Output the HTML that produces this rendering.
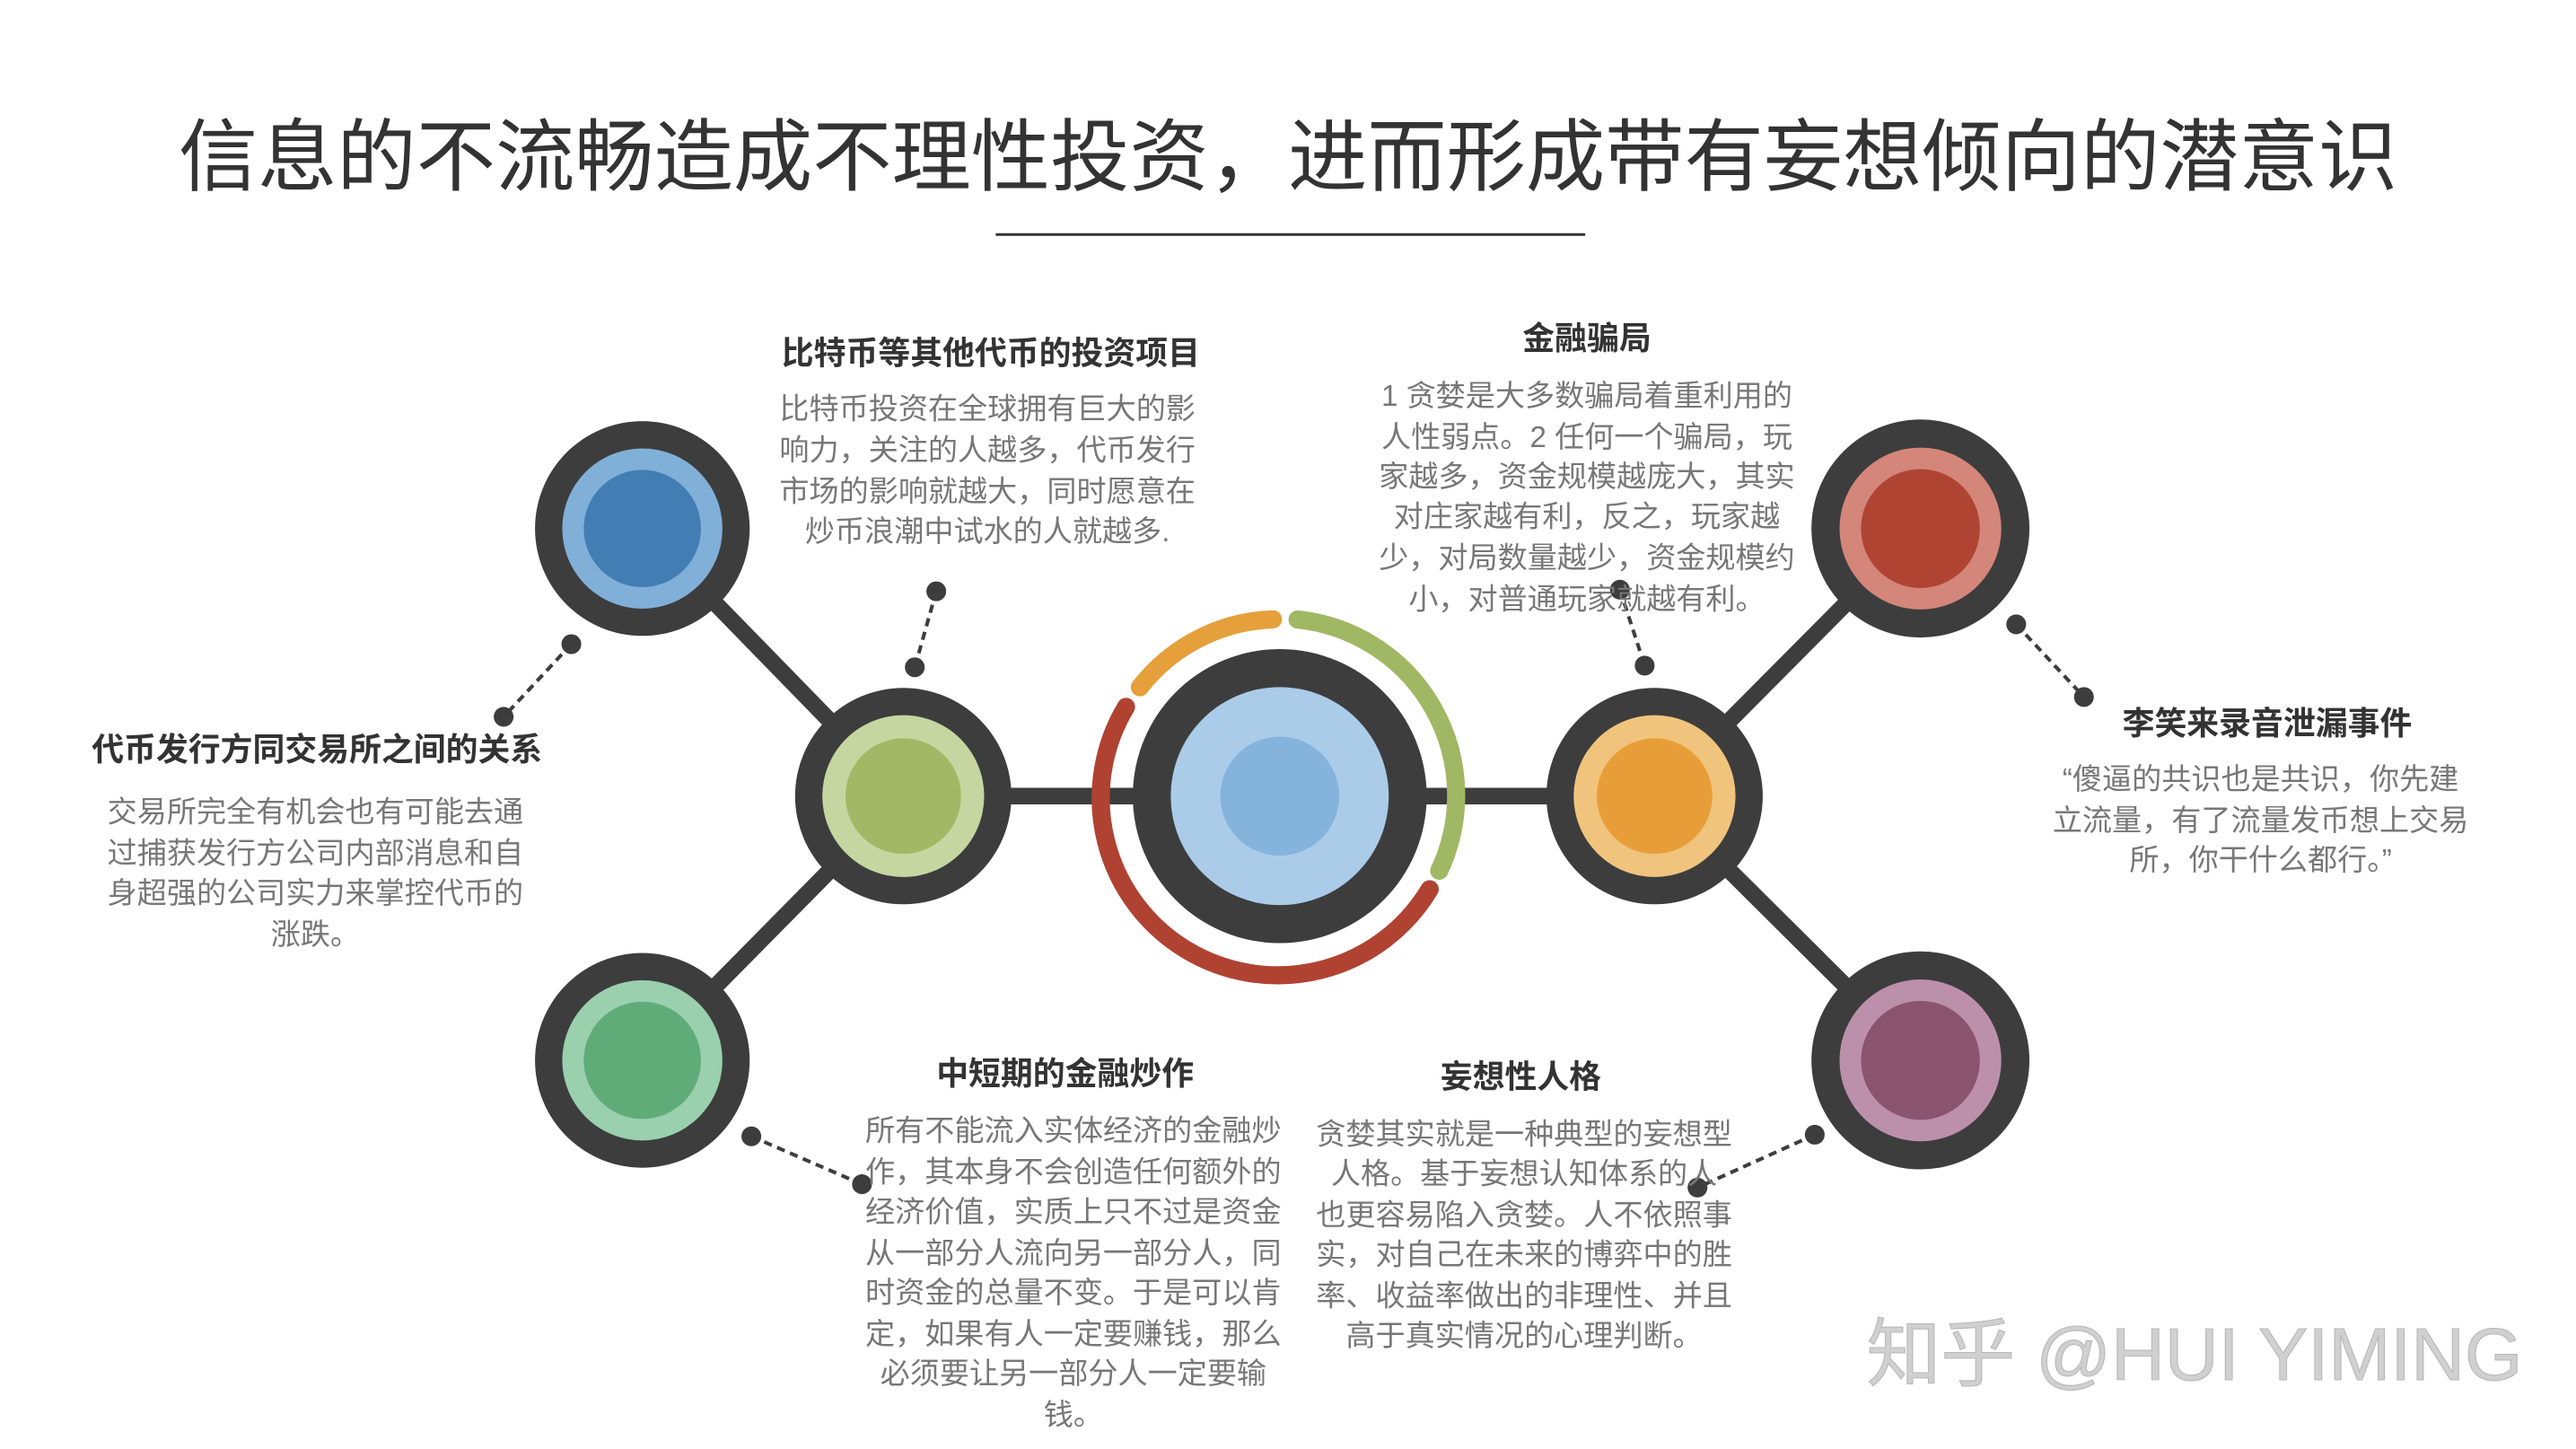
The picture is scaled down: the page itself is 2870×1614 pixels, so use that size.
<!DOCTYPE html>
<html><head><meta charset="utf-8"><style>
html,body{margin:0;padding:0;background:#fff}
svg{display:block}
text{font-family:"Liberation Sans","Noto Sans CJK SC",sans-serif}
.t{font-size:19.5px;font-weight:bold;fill:#333;text-anchor:middle;dominant-baseline:central}
.b{font-size:18px;fill:#777;text-anchor:middle;dominant-baseline:central}
</style></head><body>
<svg width="2870" height="1614" viewBox="0 0 1560 877.3" xmlns="http://www.w3.org/2000/svg">
<rect width="1560" height="878" fill="#fff"/>
<text x="780" y="95" font-size="48" fill="#333" text-anchor="middle" dominant-baseline="central">信息的不流畅造成不理性投资，进而形成带有妄想倾向的潜意识</text>
<line x1="603" y1="142" x2="960" y2="142" stroke="#333" stroke-width="1.6"/>

<g stroke="#3d3d3d" stroke-width="10">
<line x1="547" y1="482" x2="1002" y2="482"/>
<line x1="389" y1="320" x2="547" y2="482"/>
<line x1="389" y1="642" x2="547" y2="482"/>
<line x1="1163" y1="320" x2="1002" y2="482"/>
<line x1="1163" y1="642" x2="1002" y2="482"/>
</g>

<g fill="none" stroke-width="11" stroke-linecap="round">
<path d="M690.3,416.1 A107,107 0 0 1 770.9,375" stroke="#e5a03b"/>
<path d="M785.8,375.1 A107,107 0 0 1 871.6,527.2" stroke="#a0b864"/>
<path d="M865.8,538.4 A107,107 0 1 1 681.9,428" stroke="#b04232"/>
</g>

<circle cx="775" cy="482" r="89" fill="#3d3d3d"/>
<circle cx="775" cy="482" r="66" fill="#aacce8"/>
<circle cx="775" cy="482" r="36" fill="#84b4dc"/>

<circle cx="547" cy="482" r="65.5" fill="#3d3d3d"/>
<circle cx="547" cy="482" r="49" fill="#c6d6a0"/>
<circle cx="547" cy="482" r="35" fill="#a2b864"/>

<circle cx="1002" cy="482" r="65.5" fill="#3d3d3d"/>
<circle cx="1002" cy="482" r="49" fill="#f0c47c"/>
<circle cx="1002" cy="482" r="35" fill="#e89e38"/>

<circle cx="389" cy="320" r="65" fill="#3d3d3d"/>
<circle cx="389" cy="320" r="48.5" fill="#80b0d8"/>
<circle cx="389" cy="320" r="35.5" fill="#427db4"/>

<circle cx="389" cy="642" r="65" fill="#3d3d3d"/>
<circle cx="389" cy="642" r="48.5" fill="#9ad0ae"/>
<circle cx="389" cy="642" r="35.5" fill="#60ac78"/>

<circle cx="1163" cy="320" r="66" fill="#3d3d3d"/>
<circle cx="1163" cy="320" r="49" fill="#d4867a"/>
<circle cx="1163" cy="320" r="36" fill="#b04432"/>

<circle cx="1163" cy="642" r="66" fill="#3d3d3d"/>
<circle cx="1163" cy="642" r="49" fill="#bc90aa"/>
<circle cx="1163" cy="642" r="36" fill="#8a546e"/>

<g stroke="#3d3d3d" stroke-width="2.2" stroke-dasharray="5,3.5">
<line x1="346" y1="390" x2="305" y2="434"/>
<line x1="567" y1="358" x2="554" y2="404"/>
<line x1="981" y1="357" x2="996" y2="403"/>
<line x1="1221" y1="378" x2="1262" y2="422"/>
<line x1="455" y1="688" x2="522" y2="717"/>
<line x1="1099" y1="687" x2="1028" y2="719"/>
</g>
<g fill="#3d3d3d">
<circle cx="346" cy="390" r="6"/><circle cx="305" cy="434" r="6"/>
<circle cx="567" cy="358" r="6"/><circle cx="554" cy="404" r="6"/>
<circle cx="981" cy="357" r="6"/><circle cx="996" cy="403" r="6"/>
<circle cx="1221" cy="378" r="6"/><circle cx="1262" cy="422" r="6"/>
<circle cx="455" cy="688" r="6"/><circle cx="522" cy="717" r="6"/>
<circle cx="1099" cy="687" r="6"/><circle cx="1028" cy="719" r="6"/>
</g>

<text class="t" x="600" y="214">比特币等其他代币的投资项目</text>
<text class="b" x="598" y="248">比特币投资在全球拥有巨大的影</text>
<text class="b" x="598" y="273">响力，关注的人越多，代币发行</text>
<text class="b" x="598" y="298">市场的影响就越大，同时愿意在</text>
<text class="b" x="598" y="322">炒币浪潮中试水的人就越多.</text>

<text class="t" x="961" y="205">金融骗局</text>
<text class="b" x="961" y="240">1 贪婪是大多数骗局着重利用的</text>
<text class="b" x="961" y="265">人性弱点。2 任何一个骗局，玩</text>
<text class="b" x="961" y="289">家越多，资金规模越庞大，其实</text>
<text class="b" x="961" y="313">对庄家越有利，反之，玩家越</text>
<text class="b" x="961" y="338">少，对局数量越少，资金规模约</text>
<text class="b" x="961" y="363">小，对普通玩家就越有利。</text>

<text class="t" x="192" y="454">代币发行方同交易所之间的关系</text>
<text class="b" x="191" y="492">交易所完全有机会也有可能去通</text>
<text class="b" x="191" y="517">过捕获发行方公司内部消息和自</text>
<text class="b" x="191" y="541">身超强的公司实力来掌控代币的</text>
<text class="b" x="191" y="566">涨跌。</text>

<text class="t" x="1373" y="438">李笑来录音泄漏事件</text>
<text class="b" x="1369" y="472">“傻逼的共识也是共识，你先建</text>
<text class="b" x="1369" y="497">立流量，有了流量发币想上交易</text>
<text class="b" x="1369" y="521">所，你干什么都行。”</text>

<text class="t" x="645" y="650">中短期的金融炒作</text>
<text class="b" x="650" y="685">所有不能流入实体经济的金融炒</text>
<text class="b" x="650" y="710">作，其本身不会创造任何额外的</text>
<text class="b" x="650" y="734">经济价值，实质上只不过是资金</text>
<text class="b" x="650" y="759">从一部分人流向另一部分人，同</text>
<text class="b" x="650" y="783">时资金的总量不变。于是可以肯</text>
<text class="b" x="650" y="808">定，如果有人一定要赚钱，那么</text>
<text class="b" x="650" y="832">必须要让另一部分人一定要输</text>
<text class="b" x="650" y="857">钱。</text>

<text class="t" x="921" y="652">妄想性人格</text>
<text class="b" x="923" y="687">贪婪其实就是一种典型的妄想型</text>
<text class="b" x="923" y="711">人格。基于妄想认知体系的人</text>
<text class="b" x="923" y="736">也更容易陷入贪婪。人不依照事</text>
<text class="b" x="923" y="760">实，对自己在未来的博弈中的胜</text>
<text class="b" x="923" y="785">率、收益率做出的非理性、并且</text>
<text class="b" x="923" y="809">高于真实情况的心理判断。</text>

<text x="1329" y="820" font-size="45" fill="#d0d0d0" stroke="#b8b8b8" stroke-width="0.6" text-anchor="middle" dominant-baseline="central">知乎 @HUI YIMING</text>
</svg>
</body></html>
